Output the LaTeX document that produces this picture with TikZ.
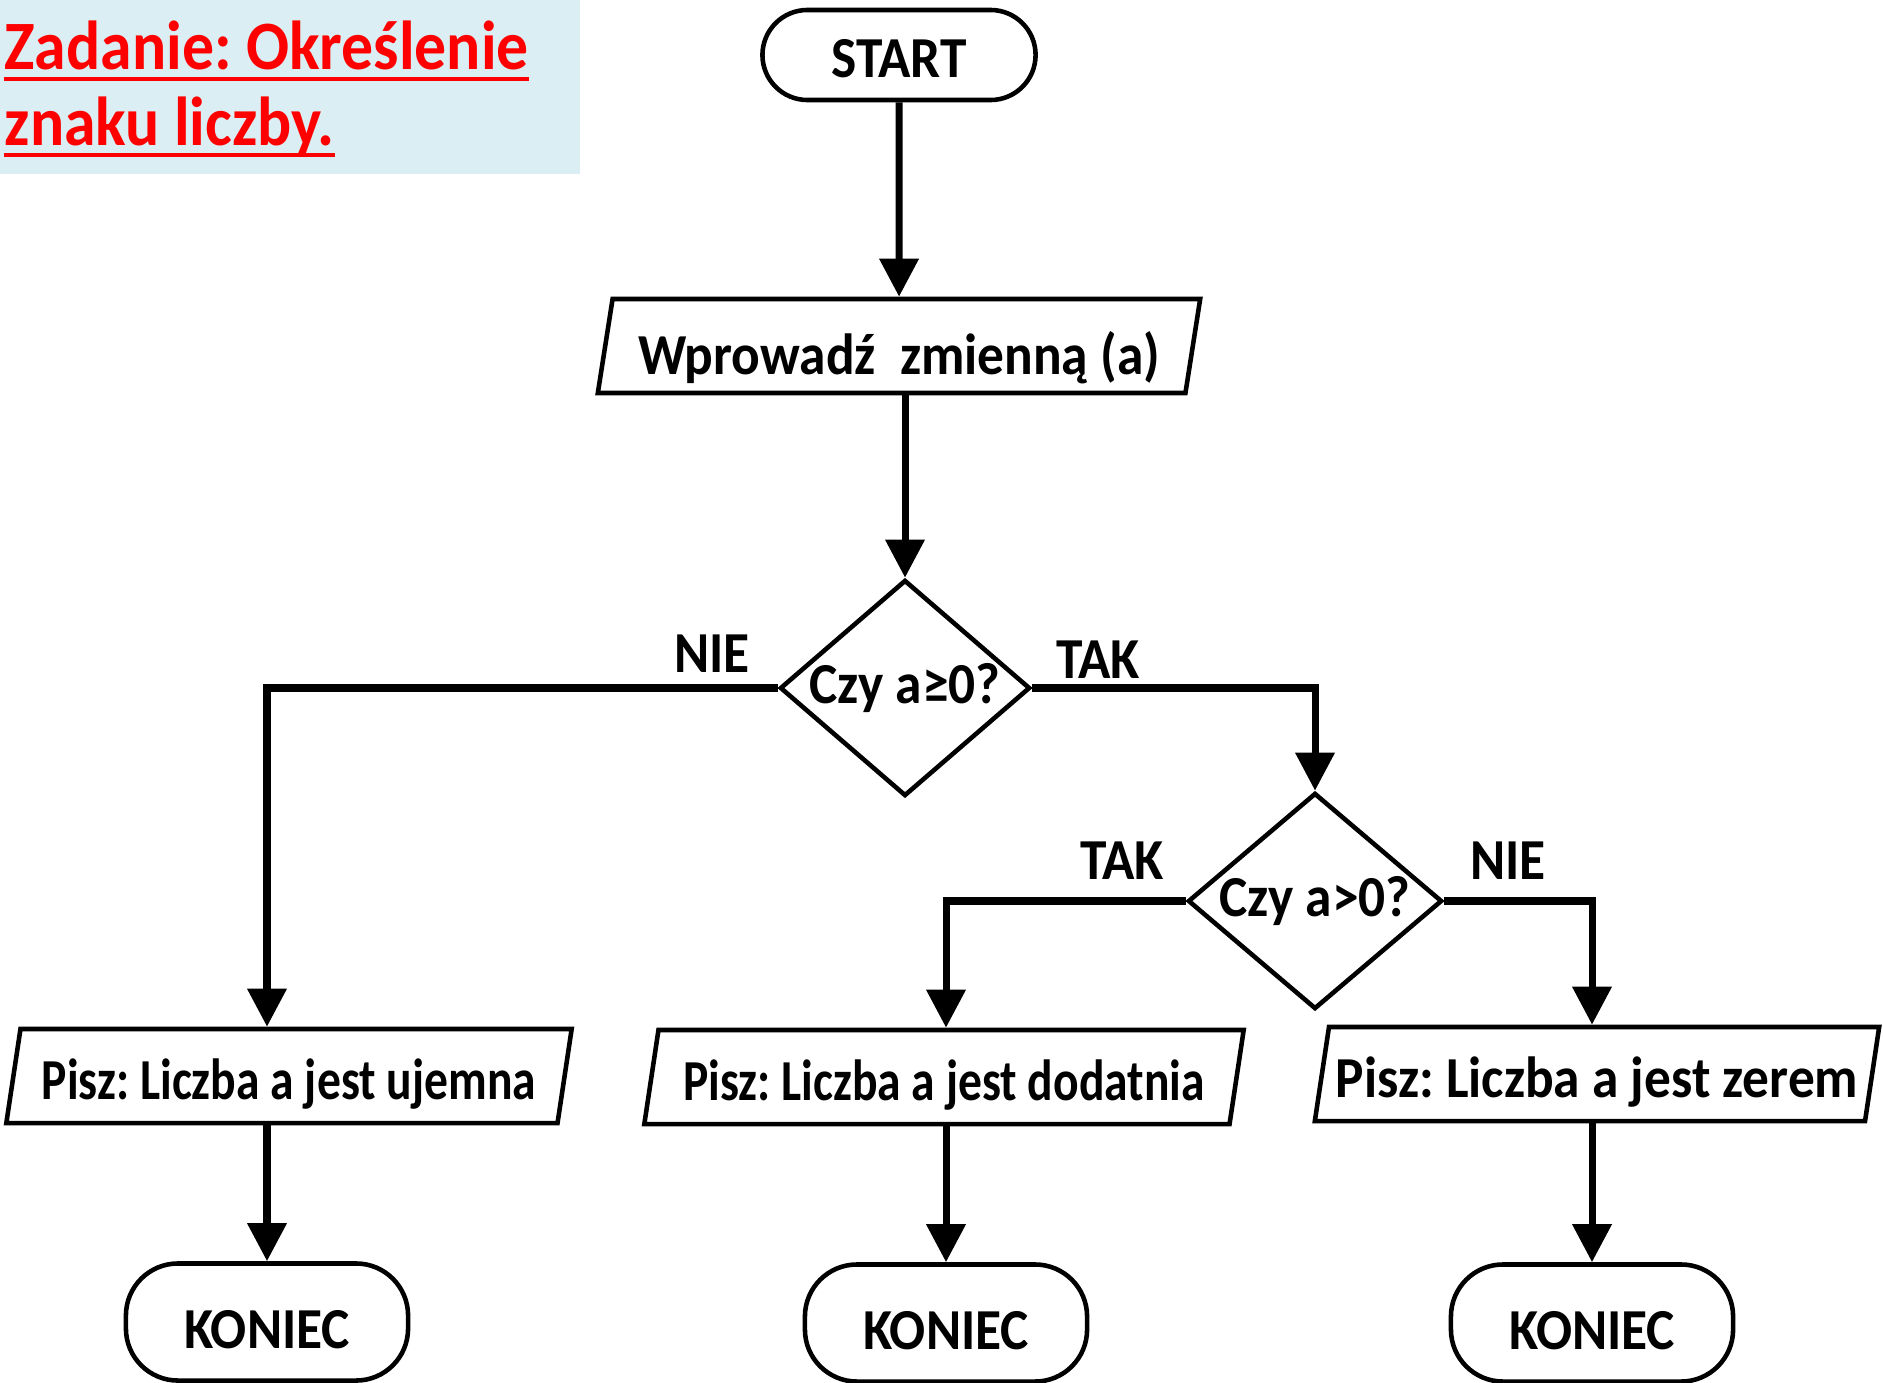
\documentclass[tikz,border=0pt]{standalone}
\usepackage{fontspec}
\setmainfont{Carlito}[FakeStretch=0.92, BoldFeatures={FakeStretch=0.92}]
\newfontfamily\narrowfont{Carlito}[FakeStretch=0.82, BoldFeatures={FakeStretch=0.82}]
\usetikzlibrary{shapes.geometric}
\usetikzlibrary{arrows.meta}

\definecolor{titlebg}{HTML}{DAEEF3}
\newcommand{\chartfont}{\frenchspacing\bfseries\fontsize{16.5}{19}\selectfont}
\newcommand{\titlefont}{\frenchspacing\bfseries\fontsize{19.7}{23}\selectfont}

\begin{document}
\begin{tikzpicture}[x=0.01cm, y=-0.01cm,
    terminal/.style={draw, line width=1.3pt, rounded corners=0.45cm, minimum width=2.73cm, minimum height=0.9cm, text height=15pt, text depth=2.2pt, font=\chartfont},
    endbox/.style={draw, line width=1.3pt, rounded corners=0.52cm, minimum width=2.82cm, minimum height=1.17cm, text height=17pt, text depth=1.8pt, font=\chartfont},
    iobox/.style={draw, line width=1.3pt, trapezium, trapezium left angle=80, trapezium right angle=100, trapezium stretches body, minimum height=0.94cm, inner xsep=0pt, inner ysep=2pt, text height=16pt, text depth=2.8pt, font=\chartfont},
    decision/.style={draw, line width=1.3pt, diamond, aspect=1.15, minimum width=2.5cm, minimum height=2.16cm, inner sep=0pt, font=\chartfont},
    branch/.style={font=\chartfont},
    flow/.style={line width=2pt, -{Triangle[length=0.38cm, width=0.38cm]}},
    titleline/.style={red, line width=1.15pt}]
        % area of the picture
        \useasboundingbox (0,0) rectangle (1883,1382);
        \fill[titlebg] (0,0) rectangle (580,174);
        \node[anchor=base west, inner sep=0pt, text=red, font=\titlefont] (t1) at (4,70) {Zadanie: Określenie};
        \node[anchor=base west, inner sep=0pt, text=red, font=\titlefont] (t2) at (4,146) {znaku liczby.};
        \draw[titleline] ([yshift=-0.09cm]t1.base west) -- ([yshift=-0.09cm]t1.base east);
        \draw[titleline] ([yshift=-0.09cm]t2.base west) -- ([yshift=-0.09cm]t2.base east);

        % blocks
        \node[terminal] (start) at (899,55) {START};
        \node[iobox, minimum width=6.02cm, text height=18pt, text depth=1.8pt] (input) at (899,346) {Wprowadź\ \ zmienną (a)};
        \node[decision] (d1) at (905,688) {Czy a≥0?};
        \node[decision, minimum width=2.54cm] (d2) at (1315,901) {Czy a>0?};
        \node[iobox, minimum width=5.65cm] (neg) at (289,1076) {\narrowfont Pisz: Liczba a jest ujemna};
        \node[iobox, minimum width=5.99cm] (pos) at (944,1077) {\narrowfont Pisz: Liczba a jest dodatnia};
        \node[iobox, minimum width=5.64cm] (zero) at (1597,1074) {Pisz: Liczba a jest zerem};
        \node[endbox] (end1) at (267,1322) {KONIEC};
        \node[endbox] (end2) at (946,1323) {KONIEC};
        \node[endbox] (end3) at (1592,1323) {KONIEC};

        % labels
        \node[branch] (l1) at (712,654) {NIE};
        \node[branch] (l2) at (1098,660) {TAK};
        \node[branch] (l3) at (1122,861) {TAK};
        \node[branch] (l4) at (1508,861) {NIE};

        % connectors
        \draw[flow] (start.south) -- (input.north);
        \draw[flow] (input.south -| d1.north) -- (d1.north);
        \draw[flow] (d1.west) -| (neg.north -| end1.north);
        \draw[flow] (d1.east) -| (d2.north);
        \draw[flow] (d2.west) -| (pos.north -| end2.north);
        \draw[flow] (d2.east) -| (zero.north -| end3.north);
        \draw[flow] (neg.south -| end1.north) -- (end1.north);
        \draw[flow] (pos.south -| end2.north) -- (end2.north);
        \draw[flow] (zero.south -| end3.north) -- (end3.north);
\end{tikzpicture}
\end{document}
